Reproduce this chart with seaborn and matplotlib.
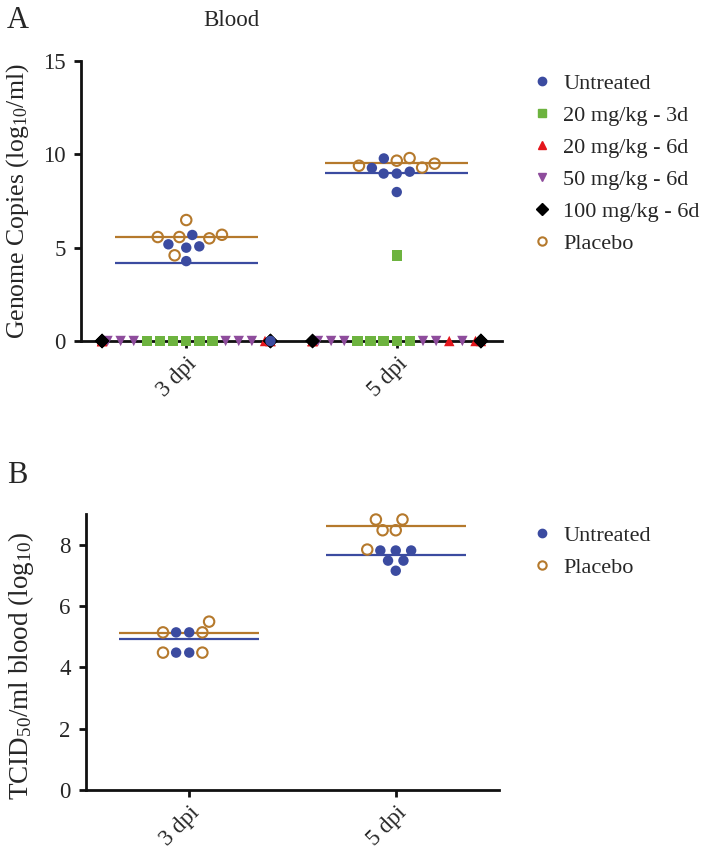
import numpy as np
import pandas as pd
import matplotlib
matplotlib.use("Agg")
import matplotlib.pyplot as plt
import seaborn as sns
from matplotlib.markers import MarkerStyle
from matplotlib.lines import Line2D

days = ["3 dpi", "5 dpi"]
groups = ["Untreated", "20 mg/kg - 3d", "20 mg/kg - 6d", "50 mg/kg - 6d",
          "100 mg/kg - 6d", "Placebo"]
colors = ["#3B4BA0", "#6DB33F", "#E4161C", "#8E4C9C", "#000000", "#B5792C"]
markers = ["o", "s", "^", "v", "D", "o"]

# panel A - genome copies (log10/ml), values read per animal
a_untreated_3 = [5.68, 5.18, 5.00, 5.07, 4.28, 0.0]
a_untreated_5 = [9.78, 8.97, 8.97, 9.07, 9.27, 7.98]
a_20mg3d_3 = [0, 0, 0, 0, 0, 0]
a_20mg3d_5 = [4.57, 0, 0, 0, 0, 0]
a_20mg6d_3 = [0, 0, 0, 0, 0, 0]
a_20mg6d_5 = [0, 0, 0, 0, 0, 0]
a_50mg6d_3 = [0, 0, 0, 0, 0, 0]
a_50mg6d_5 = [0, 0, 0, 0, 0, 0]
a_100mg6d_3 = [0, 0, 0, 0, 0, 0]
a_100mg6d_5 = [0, 0, 0, 0, 0, 0]
a_placebo_3 = [6.48, 5.57, 5.69, 5.50, 5.57, 4.59]
a_placebo_5 = [9.39, 9.29, 9.66, 9.80, 9.50]

# panel B - TCID50/ml blood (log10)
b_untreated_3 = [5.14, 4.48, 5.14, 4.48]
b_untreated_5 = [7.81, 7.81, 7.81, 7.48, 7.48, 7.15]
b_placebo_3 = [5.14, 4.48, 5.14, 4.48, 5.49]
b_placebo_5 = [8.82, 8.47, 8.47, 8.82, 7.84]


def long_df(parts):
    rows = []
    for grp, day, vals in parts:
        for v in vals:
            rows.append({"group": grp, "day": day, "value": v})
    return pd.DataFrame(rows)


# treated groups first so untreated / placebo are drawn on top
dfA = long_df([
    ("20 mg/kg - 3d", "3 dpi", a_20mg3d_3), ("20 mg/kg - 3d", "5 dpi", a_20mg3d_5),
    ("50 mg/kg - 6d", "3 dpi", a_50mg6d_3), ("50 mg/kg - 6d", "5 dpi", a_50mg6d_5),
    ("20 mg/kg - 6d", "3 dpi", a_20mg6d_3), ("20 mg/kg - 6d", "5 dpi", a_20mg6d_5),
    ("100 mg/kg - 6d", "3 dpi", a_100mg6d_3), ("100 mg/kg - 6d", "5 dpi", a_100mg6d_5),
    ("Untreated", "3 dpi", a_untreated_3), ("Untreated", "5 dpi", a_untreated_5),
    ("Placebo", "3 dpi", a_placebo_3), ("Placebo", "5 dpi", a_placebo_5),
])
dfB = long_df([
    ("Untreated", "3 dpi", b_untreated_3), ("Untreated", "5 dpi", b_untreated_5),
    ("Placebo", "3 dpi", b_placebo_3), ("Placebo", "5 dpi", b_placebo_5),
])

sns.set_style("ticks")
plt.rcParams["font.family"] = ["Liberation Serif", "DejaVu Serif"]
plt.rcParams["mathtext.fontset"] = "custom"
plt.rcParams["mathtext.rm"] = "Liberation Serif"
plt.rcParams["mathtext.it"] = "Liberation Serif:italic"

cmap = dict(zip(groups, colors))
mmap = dict(zip(groups, markers))


def marker_path(m):
    ms = MarkerStyle(m)
    return ms.get_path().transformed(ms.get_transform())


def swarm(ax, df, size):
    n0 = len(ax.collections)
    sns.swarmplot(data=df, x="day", y="value", hue="group", order=days,
                  palette=cmap, size=size, ax=ax, legend=False,
                  clip_on=False, zorder=4, warn_thresh=1)
    for coll in ax.collections[n0:]:
        cx = int(round(coll.get_offsets()[0, 0]))
        sub = df[df["day"] == days[cx]]
        fc, ec = [], []
        for g in sub["group"]:
            if g == "Placebo":
                fc.append((1, 1, 1, 0)); ec.append(cmap[g])
            else:
                fc.append(cmap[g]); ec.append((0, 0, 0, 0))
        coll.set_paths([marker_path(mmap[g]) for g in sub["group"]])
        coll.set_facecolors(fc)
        coll.set_edgecolors(ec)
        coll.set_linewidths(1.5)


def mean_lines(ax, df, how):
    for i, d in enumerate(days):
        for g in ["Untreated", "Placebo"]:
            v = np.array(df[(df.day == d) & (df.group == g)]["value"])
            m = v.mean() if how == "mean" else np.log10(np.mean(10.0 ** v))
            ax.hlines(m, i - 0.34, i + 0.34, color=cmap[g], lw=1.6, zorder=2)


def style_axis(ax):
    sns.despine(ax=ax)
    for s in ["left", "bottom"]:
        ax.spines[s].set_linewidth(2.0)
        ax.spines[s].set_color("#111111")
    ax.tick_params(axis="both", length=5, width=2, color="#111111",
                   labelsize=16.5)
    ax.tick_params(axis="y", pad=6)
    ax.tick_params(axis="x", pad=4)
    ax.set_xlim(-0.5, 1.5)
    ax.set_xlabel("")
    plt.setp(ax.get_xticklabels(), rotation=45, ha="right",
             rotation_mode="anchor")


fig = plt.figure(figsize=(7.03, 8.66), dpi=100)
axA = fig.add_axes([81 / 703, 1 - 341 / 866, 421 / 703, 280 / 866])
axB = fig.add_axes([86 / 703, 1 - 790 / 866, 413 / 703, 276 / 866])

# panel A
mean_lines(axA, dfA, "mean")
swarm(axA, dfA, 7.5)
axA.set_ylim(0, 15)
axA.set_yticks([0, 5, 10, 15])
style_axis(axA)
axA.set_ylabel(r"Genome Copies (log$_{\mathrm{10}}$/ml)", fontsize=18.5)
axA.yaxis.set_label_coords(-0.118, 0.5)

# panel B
mean_lines(axB, dfB, "geo")
swarm(axB, dfB, 7.5)
axB.set_ylim(0, 9)
axB.set_yticks([0, 2, 4, 6, 8])
style_axis(axB)
axB.set_ylabel(r"TCID$_{\mathrm{50}}$/ml blood (log$_{\mathrm{10}}$)", fontsize=19.5)
axB.yaxis.set_label_coords(-0.12, 0.45)

fig.text(7 / 703, 1 - 28 / 866, "A", fontsize=22, va="baseline")
fig.text(7 / 703, 1 - 483 / 866, "B", fontsize=22, va="baseline")
fig.text(231 / 703, 1 - 26 / 866, "Blood", fontsize=16.5, ha="center", va="baseline")


def handles(names):
    hs = []
    for g in names:
        if g == "Placebo":
            hs.append(Line2D([], [], ls="", marker="o", markersize=6,
                             markerfacecolor="none", markeredgecolor=cmap[g],
                             markeredgewidth=1.5))
        else:
            hs.append(Line2D([], [], ls="", marker=mmap[g], markersize=6,
                             color=cmap[g]))
    return hs


leg_kw = dict(frameon=False, fontsize=16, handlelength=1.0, handletextpad=0.45,
              borderpad=0, borderaxespad=0, labelspacing=0.52, loc="upper left",
              bbox_transform=fig.transFigure)
fig.legend(handles(groups), groups, bbox_to_anchor=(531 / 703, 1 - 73 / 866), **leg_kw)
fig.legend(handles(["Untreated", "Placebo"]), ["Untreated", "Placebo"],
           bbox_to_anchor=(531 / 703, 1 - 525 / 866), **leg_kw)

fig.savefig("out.png", dpi=100)
